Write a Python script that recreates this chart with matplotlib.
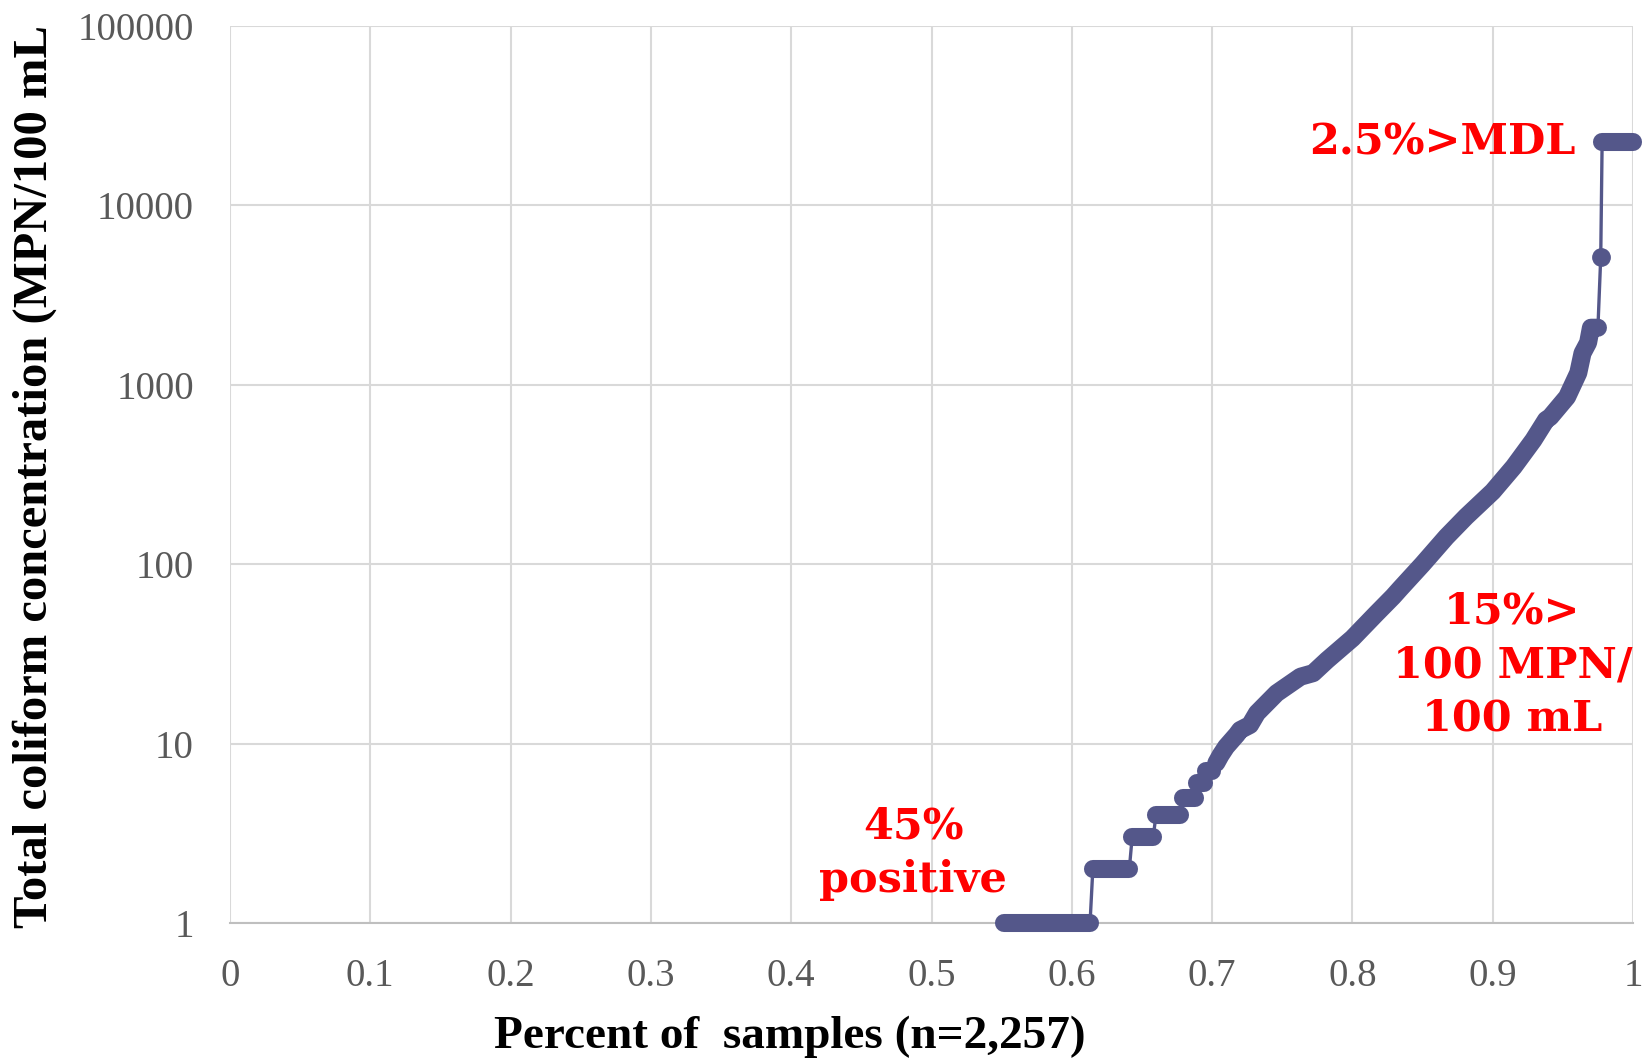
import matplotlib
matplotlib.use("Agg")
import matplotlib.pyplot as plt

# --- data ---
# flat runs of identical MPN values at the low end (start x, end x, value)
plateau_x_start = [0.552, 0.615, 0.643, 0.660, 0.679, 0.689, 0.696]
plateau_x_end = [0.613, 0.641, 0.658, 0.677, 0.688, 0.694, 0.700]
plateau_value = [1, 2, 3, 4, 5, 6, 7]

# dense, continuously rising part of the curve
curve_x = [0.703, 0.706, 0.710, 0.7175, 0.720, 0.727, 0.732, 0.746, 0.763,
           0.772, 0.782, 0.800, 0.817, 0.829, 0.834, 0.850, 0.867, 0.881,
           0.900, 0.915, 0.929, 0.938, 0.941, 0.953, 0.961, 0.964, 0.968,
           0.970, 0.975]
curve_y = [7.8, 8.6, 9.6, 11.2, 11.9, 12.7, 14.8, 19.1, 23.6,
           24.7, 29.2, 38.6, 53, 66, 73, 100, 142, 184,
           254, 349, 492, 637, 661, 855, 1165, 1500, 1718,
           2080, 2080]

# isolated high values and the samples at the upper detection limit
high_x = [0.977]
high_y = [5140]
mdl_x = [0.978, 1.0]
mdl_y = [22700, 22700]

x_ticks = [0, 0.1, 0.2, 0.3, 0.4, 0.5, 0.6, 0.7, 0.8, 0.9, 1]
x_tick_labels = ["0", "0.1", "0.2", "0.3", "0.4", "0.5", "0.6", "0.7", "0.8", "0.9", "1"]
y_ticks = [1, 10, 100, 1000, 10000, 100000]
y_tick_labels = ["1", "10", "100", "1000", "10000", "100000"]

line_color = "#54578A"
red = "#FF0000"
serif = "Liberation Serif"
note_font = "DejaVu Serif"

fig = plt.figure(figsize=(16.46, 10.61), dpi=100)
ax = fig.add_axes([230 / 1646, 1 - 923 / 1061, 1403 / 1646, 897 / 1061])

ax.set_yscale("log")
ax.set_xlim(0, 1)
ax.set_ylim(1, 100000)

# thin connecting line through every point
all_x, all_y = [], []
for xs, xe, v in zip(plateau_x_start, plateau_x_end, plateau_value):
    all_x += [xs, xe]
    all_y += [v, v]
all_x += curve_x + high_x + mdl_x
all_y += curve_y + high_y + mdl_y
ax.plot(all_x, all_y, color=line_color, lw=2.4, zorder=3, clip_on=False)

# thick bands where markers overlap
thick = dict(color=line_color, lw=13, solid_capstyle="round",
             solid_joinstyle="round", zorder=4, clip_on=False)
for xs, xe, v in zip(plateau_x_start, plateau_x_end, plateau_value):
    ax.plot([xs, xe], [v, v], **thick)
ax.plot(curve_x, curve_y, **thick)
ax.plot(mdl_x, mdl_y, **thick)
ax.plot(high_x, high_y, "o", color=line_color, ms=12.5, zorder=4, clip_on=False)

# axes styling
ax.grid(True, which="major", color="#d9d9d9", lw=1.5)
ax.minorticks_off()
for side in ["top", "right", "left"]:
    ax.spines[side].set_visible(False)
ax.spines["bottom"].set_color("#bfbfbf")
ax.spines["bottom"].set_linewidth(1.5)
ax.set_axisbelow(True)

ax.set_xticks(x_ticks)
ax.set_xticklabels(x_tick_labels)
ax.set_yticks(y_ticks)
ax.set_yticklabels(y_tick_labels)
ax.tick_params(axis="both", length=0, labelsize=28, labelcolor="#595959")
ax.tick_params(axis="x", pad=25)
ax.tick_params(axis="y", pad=26)
for lab in ax.get_xticklabels() + ax.get_yticklabels():
    lab.set_fontfamily(serif)

fig.text(35 / 1646, 1 - 477 / 1061, "Total coliform concentration (MPN/100 mL",
         rotation=90, ha="center", va="center", fontsize=35,
         fontweight="bold", family=serif)
fig.text(790 / 1646, 1 - 1037 / 1061, "Percent of  samples (n=2,257)",
         ha="center", va="center", fontsize=34, fontweight="bold", family=serif)

# red annotations
ax.text(0.864, 22550, "2.5%>MDL", ha="center", va="center", color=red,
        fontsize=31, fontweight="bold", family=note_font)
ax.text(0.487, 2.45, "45%\npositive", ha="center", va="center", color=red,
        fontsize=31, fontweight="bold", family=note_font, linespacing=1.35)
ax.text(0.914, 27.4, "15%>\n100 MPN/\n100 mL", ha="center", va="center",
        color=red, fontsize=31, fontweight="bold", family=note_font,
        linespacing=1.35)

fig.savefig("out.png", dpi=100)
